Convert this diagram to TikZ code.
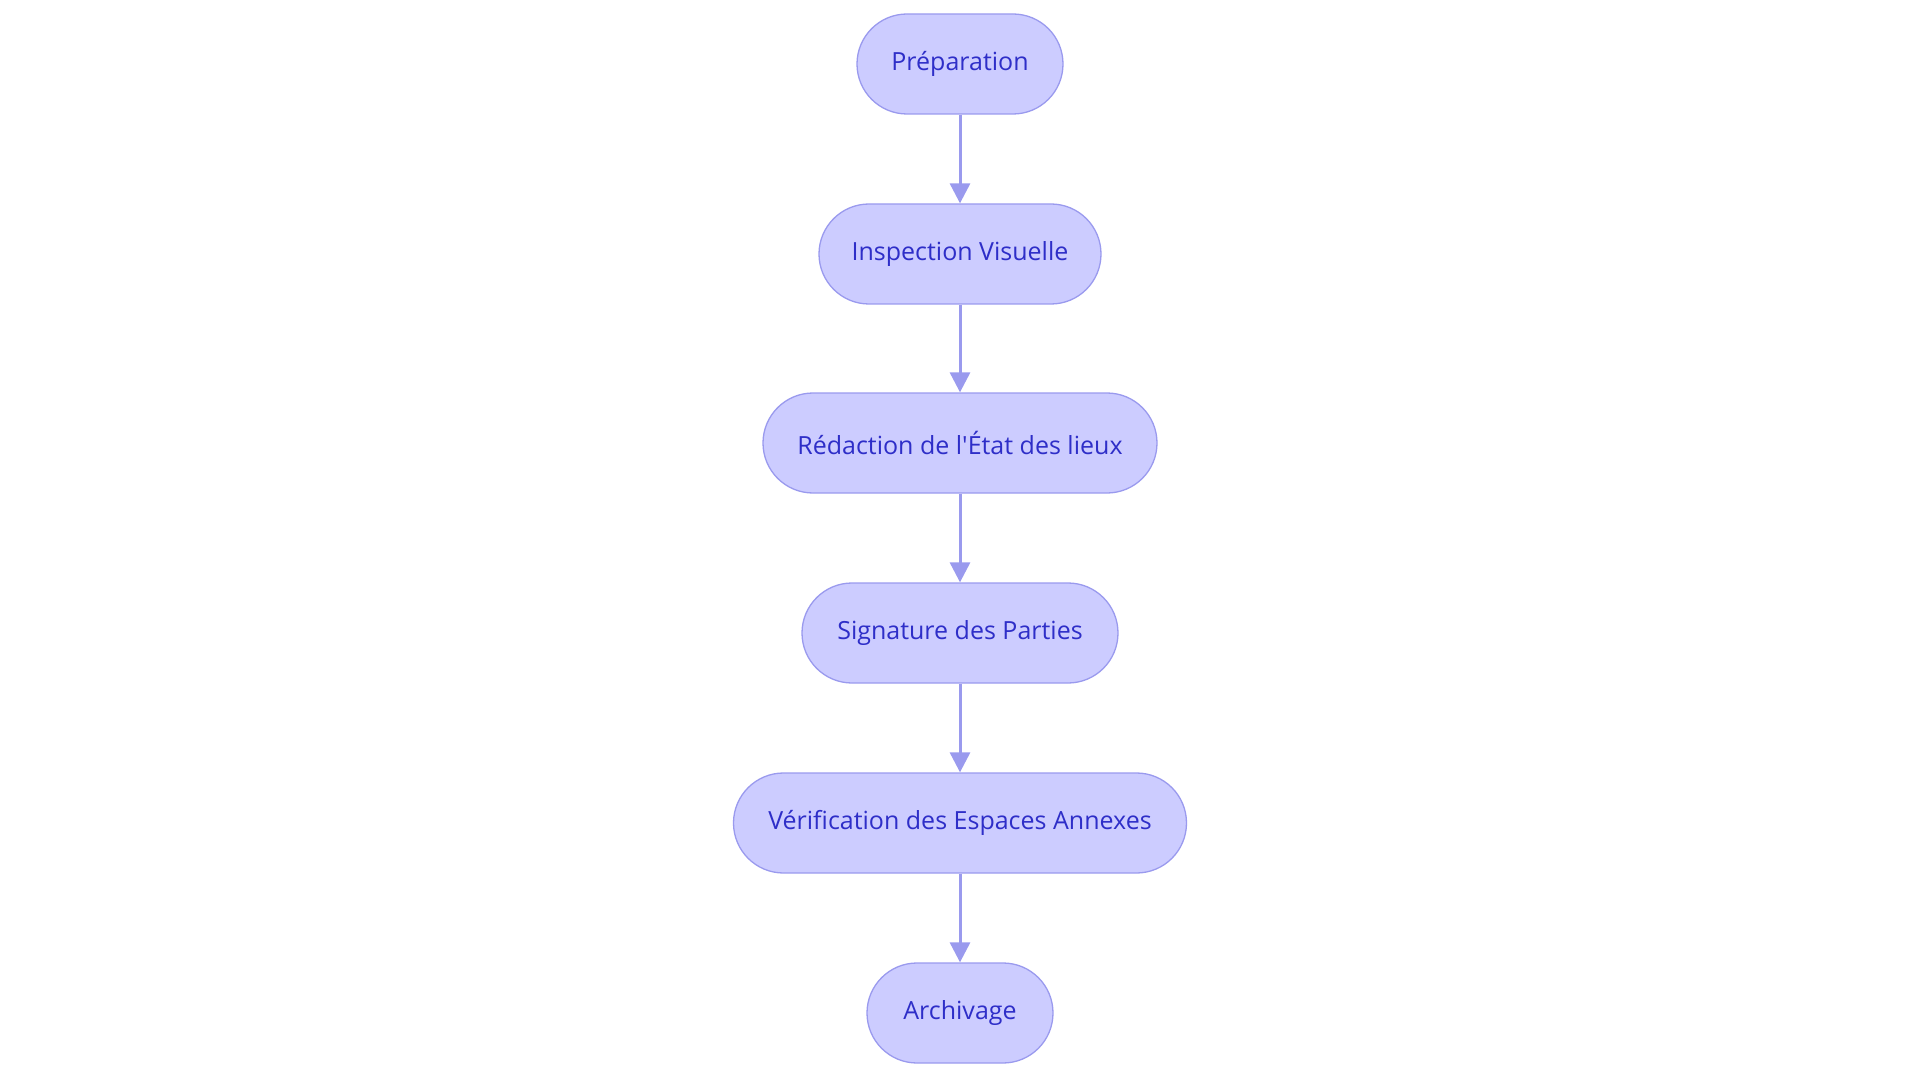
\documentclass[tikz,border=0pt]{standalone}
\usepackage{fontspec}
\setmainfont{Open Sans}
\usetikzlibrary{arrows.meta}
\definecolor{fillc}{HTML}{CCCCFF}
\definecolor{linec}{HTML}{9A9AEE}
\definecolor{textc}{HTML}{2E2EC8}
\begin{document}
\begin{tikzpicture}[x=1pt,y=-1pt,
  box/.style={draw=linec,fill=fillc,line width=1.3pt,rounded corners=50pt,minimum height=100pt,text=textc,font=\fontsize{25}{30}\selectfont,inner sep=0pt},
  arr/.style={draw=linec,line width=3pt,-{Triangle[length=20pt,width=20pt]}}]
\useasboundingbox (0,0) rectangle (1920,1083);
\node[box,minimum width=206pt] (a) at (960,64) {Préparation};
\node[box,minimum width=282pt] (b) at (960,254) {Inspection Visuelle};
\node[box,minimum width=394pt] (c) at (960,443) {Rédaction de l\textquotesingle État des lieux};
\node[box,minimum width=316pt] (d) at (960,633) {Signature des Parties};
\node[box,minimum width=453pt] (e) at (960,823) {Vérification des Espaces Annexes};
\node[box,minimum width=186pt] (f) at (960,1013) {Archivage};
\draw[arr] (a) -- (b);
\draw[arr] (b) -- (c);
\draw[arr] (c) -- (d);
\draw[arr] (d) -- (e);
\draw[arr] (e) -- (f);
\end{tikzpicture}
\end{document}
